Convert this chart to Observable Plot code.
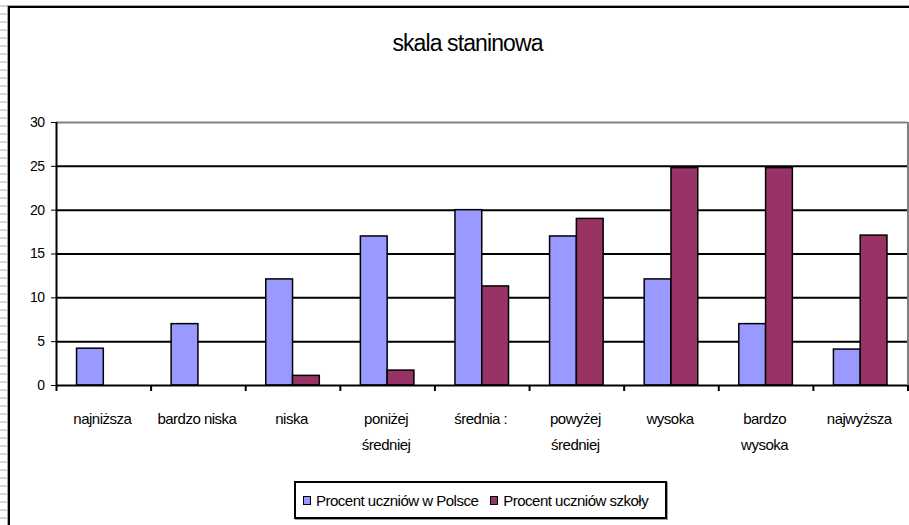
<!DOCTYPE html>
<html>
<head>
<meta charset="utf-8">
<script src="https://cdn.jsdelivr.net/npm/d3@7"></script>
<script src="https://cdn.jsdelivr.net/npm/@observablehq/plot@0.6"></script>
<style>
  html, body { margin: 0; padding: 0; background: #fff; }
  #wrap { position: relative; width: 909px; height: 525px; overflow: hidden; font-family: "Liberation Sans", Arial, sans-serif; }
  #stripes { position: absolute; left: 0; top: 5px; width: 8px; height: 520px;
    background: repeating-linear-gradient(to bottom, #d6d6d6 0px, #d6d6d6 2px, #ffffff 2px, #ffffff 8px); }
  #border { position: absolute; left: 8px; top: 6px; width: 920px; height: 540px; box-sizing: border-box;
    border-left: 2px solid #000; border-top: 2px solid #000; box-shadow: -1px -1px 0 #a8a8a8; background: #fff; }
  #chart { position: absolute; left: 0; top: 0; }
  #chart svg { background: transparent !important; }
  #chart svg text { letter-spacing: -0.5px; }
  #title { position: absolute; left: 467.5px; top: 32px; transform: translateX(-50%); font-size: 23px; line-height: 23px;
    letter-spacing: -0.9px; white-space: nowrap; color: #000; }
  #legend { position: absolute; left: 294px; top: 481px; width: 373px; height: 38px; box-sizing: border-box;
    border: 2px solid #000; box-shadow: 1px 1px 0 #9a9a9a; background: #fff; display: flex; align-items: center; padding-left: 7px; }
  .item { display: flex; align-items: center; margin-right: 12px; font-size: 15px; letter-spacing: -0.5px; white-space: nowrap; }
  .sw { width: 6px; height: 7px; border: 1.5px solid #000; margin-right: 5px; }
</style>
</head>
<body>
<div id="wrap">
  <div id="stripes"></div>
  <div id="border"></div>
  <div id="chart"></div>
  <div id="title"></div>
  <div id="legend"></div>
</div>
<script>
const titleText = "skala staninowa";
const categories = ["najniższa", "bardzo niska", "niska", "poniżej\nśredniej", "średnia :", "powyżej\nśredniej", "wysoka", "bardzo\nwysoka", "najwyższa"];
const seriesNames = ["Procent uczniów w Polsce", "Procent uczniów szkoły"];
const seriesColors = ["#9999FF", "#993366"];
const polska = [4.2, 7, 12.1, 17, 20, 17, 12.1, 7, 4.1];
const szkola = [0, 0, 1.1, 1.7, 11.3, 19, 24.8, 24.8, 17.1];
const yTicks = [0, 5, 10, 15, 20, 25, 30];

const W = 909, H = 525;
const mL = 56, mR = 1.5, mT = 122, mB = 140;
const bw = (W - mL - mR) / categories.length;
// bar geometry within a band (pixels)
const barW = bw * 0.283;
const groupLeft = (bw - 2 * barW) / 2;

const rows = categories.map((c, i) => ({cat: c, a: polska[i], b: szkola[i]}));

const chart = Plot.plot({
  width: W, height: H,
  marginLeft: mL, marginRight: mR, marginTop: mT, marginBottom: mB,
  style: {fontFamily: "'Liberation Sans', Arial, sans-serif", fontSize: "14px", color: "#000", background: "transparent"},
  x: {domain: categories, padding: 0, round: false, axis: null},
  y: {domain: [0, 30], ticks: yTicks, tickSize: 5, tickPadding: 7, label: null, tickFormat: d => String(d)},
  marks: [
    Plot.ruleY(yTicks.filter(t => t > 0 && t < 30), {stroke: "#000", strokeWidth: 2}),
    Plot.ruleY([30], {stroke: "#808080", strokeWidth: 2}),
    Plot.barY(rows, {x: "cat", y: "a", fill: seriesColors[0], stroke: "#000", strokeWidth: 1.5,
      insetLeft: groupLeft, insetRight: bw - groupLeft - barW}),
    Plot.barY(rows.filter(d => d.b > 0), {x: "cat", y: "b", fill: seriesColors[1], stroke: "#000", strokeWidth: 1.5,
      insetLeft: groupLeft + barW, insetRight: groupLeft}),
    Plot.ruleY([0], {stroke: "#000", strokeWidth: 2}),
    // y axis line (left edge of first band)
    Plot.ruleX([categories[0]], {x: d => d, y1: 0, y2: 30, dx: -bw / 2, stroke: "#000", strokeWidth: 2}),
    // right frame edge
    Plot.ruleX([categories[categories.length - 1]], {x: d => d, y1: 0, y2: 30, dx: bw / 2, stroke: "#808080", strokeWidth: 2}),
    // category boundary ticks below the axis
    Plot.ruleX(categories, {x: d => d, y1: 0, y2: 0, dx: -bw / 2, insetBottom: -6, stroke: "#000", strokeWidth: 2}),
    Plot.ruleX([categories[categories.length - 1]], {x: d => d, y1: 0, y2: 0, dx: bw / 2, insetBottom: -6, stroke: "#000", strokeWidth: 2}),
    // category labels
    Plot.text(categories, {x: d => d, y: () => 0, text: d => d, lineAnchor: "top", dy: 20, dx: -1.5, fontSize: 15, lineHeight: 1.73, fill: "#000"})
  ]
});
document.getElementById("chart").appendChild(chart);

document.getElementById("title").textContent = titleText;
const legend = document.getElementById("legend");
seriesNames.forEach((name, i) => {
  const it = document.createElement("div");
  it.className = "item";
  const sw = document.createElement("div");
  sw.className = "sw";
  sw.style.background = seriesColors[i];
  const tx = document.createElement("span");
  tx.textContent = name;
  it.appendChild(sw); it.appendChild(tx);
  legend.appendChild(it);
});
</script>
</body>
</html>
